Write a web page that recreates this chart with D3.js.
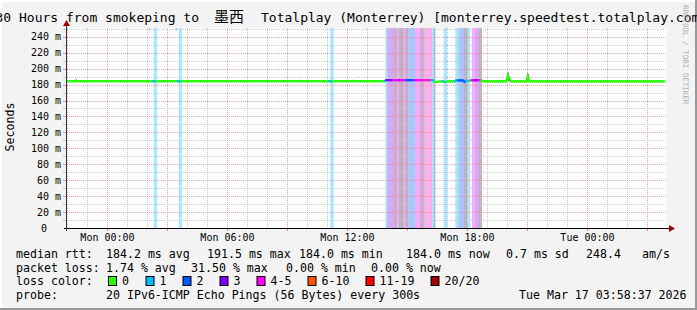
<!DOCTYPE html>
<html>
<head>
<meta charset="utf-8">
<script src="https://cdn.jsdelivr.net/npm/d3@7"></script>
<style>
  body { margin: 0; background: #f3f3f3; }
  svg { display: block; }
  text { font-family: "DejaVu Sans Mono", monospace; fill: #000; }
</style>
</head>
<body>
<svg width="697" height="310"></svg>
<script>
// ---- data ----
var titleHead = "30 Hours from smokeping to ";
var titleCjk = "墨西";
var titleTail = "Totalplay (Monterrey) [monterrey.speedtest.totalplay.com]";

var startTime = new Date(2026, 2, 15, 21, 58, 37);
var endTime = new Date(2026, 2, 17, 3, 58, 37);

var yTicks = [0, 0.02, 0.04, 0.06, 0.08, 0.10, 0.12, 0.14, 0.16, 0.18, 0.20, 0.22, 0.24];
var xTickTimes = [new Date(2026, 2, 16, 0), new Date(2026, 2, 16, 6), new Date(2026, 2, 16, 12),
                  new Date(2026, 2, 16, 18), new Date(2026, 2, 17, 0)];
var xTickLabels = ["Mon 00:00", "Mon 06:00", "Mon 12:00", "Mon 18:00", "Tue 00:00"];

// median rtt (ms), as runs of 5-minute steps
var medianFrom = [0,     191,   220,   223,   226,   228, 233,   238,   239,   242,   249, 264,   265, 266, 276,   277];
var medianTo   = [190,   219,   222,   225,   227,   232, 237,   238,   241,   248,   263, 264,   265, 275, 276,   358];
var medianMs   = [184.2, 185.5, 183.4, 184.0, 183.5, 184, 185.2, 183.4, 184.6, 185.4, 184, 191.5, 187, 184, 190.5, 184];

// lost pings (of 20) per 5-minute step
var lossStep  = [52, 53, 67, 68, 158, 159, 191, 192, 193, 194, 195, 196, 197, 198, 199, 200, 201, 202, 203,
                 204, 205, 206, 207, 208, 209, 210, 211, 212, 213, 214, 215, 216, 217, 218, 219, 220,
                 226, 227, 233, 234, 235, 236, 237, 238, 239, 240, 241, 243, 244, 245, 246, 247, 248];
var lossCount = [1, 1, 1, 1, 1, 1, 1, 3, 3, 3, 3, 4, 4, 5, 4, 3, 4, 5, 4,
                 2, 2, 2, 2, 2, 5, 4, 5, 4, 4, 5, 5, 7, 4, 5, 1, 1,
                 1, 1, 1, 1, 2, 2, 2, 2, 2, 1, 1, 4, 5, 3, 3, 4, 4];

// smoke (ping spread, ms) per step
var smokeStep = [5, 49, 65, 120, 132, 139, 171, 196, 197, 199, 200, 201, 203, 212, 213, 220, 238, 239, 247, 248, 264, 265, 276];
var smokeLo   = [184, 248, 248, 184, 184, 184, 184, 0, 0, 0, 0, 0, 0, 0, 0, 0, 0, 0, 0, 0, 184, 184, 184];
var smokeHi   = [187, 251, 251, 186, 186, 186, 186, 251, 251, 251, 251, 251, 251, 251, 251, 251, 251, 251, 251, 251, 196, 190, 194];

var lossKeys   = ["0", "1", "2", "3", "4-5", "6-10", "11-19", "20/20"];
var lossColors = ["#26ff00", "#00b8ff", "#0059ff", "#7e00ff", "#ff00ff", "#ff5500", "#ff0000", "#a10000"];

var statRtt  = ["median rtt:", "184.2 ms avg", "191.5 ms max", "184.0 ms min", "184.0 ms now", "0.7 ms sd", "248.4", "am/s"];
var statLoss = ["packet loss:", "1.74 % avg", "31.50 % max", "0.00 % min", "0.00 % now"];
var probeText = ["probe:", "20 IPv6-ICMP Echo Pings (56 Bytes) every 300s", "Tue Mar 17 03:58:37 2026"];

// ---- layout ----
var svg = d3.select("svg"),
    width = +svg.attr("width"),
    height = +svg.attr("height");
var pLeft = 67, pRight = 667, pTop = 28, pBottom = 228;

var x = d3.scaleTime().domain([startTime, endTime]).range([pLeft, pRight]);
var y = d3.scaleLinear().domain([0, 0.251]).range([pBottom, pTop]);
var stepMs = 300000;
function stepTime(i) { return new Date(startTime.getTime() + i * stepMs); }
function lossColor(n) {
  var k = n == 0 ? 0 : n == 1 ? 1 : n == 2 ? 2 : n == 3 ? 3 : n <= 5 ? 4 : n <= 10 ? 5 : n < 20 ? 6 : 7;
  return lossColors[k];
}

// background + frame
svg.append("rect").attr("width", width).attr("height", height).attr("fill", "#f3f3f3");
svg.append("path").attr("d", "M1,310V1H697").attr("fill", "none").attr("stroke", "#ffffff").attr("stroke-width", 2);
svg.append("path").attr("d", "M0,309H696V0").attr("fill", "none").attr("stroke", "#9a9a9a").attr("stroke-width", 2);
svg.append("rect").attr("x", pLeft).attr("y", pTop).attr("width", pRight - pLeft).attr("height", pBottom - pTop)
    .attr("fill", "#ffffff");

// loss bands
var plot = svg.append("g");
plot.selectAll("rect.loss")
    .data(lossStep)
    .enter().append("rect")
      .attr("class", "loss")
      .attr("x", function(d) { return x(stepTime(d)); })
      .attr("width", function(d) { return x(stepTime(d + 1)) - x(stepTime(d)); })
      .attr("y", pTop)
      .attr("height", pBottom - pTop)
      .attr("fill", function(d, i) { return lossColor(lossCount[i]); })
      .attr("fill-opacity", 0.35);

// smoke
plot.selectAll("rect.smoke")
    .data(smokeStep)
    .enter().append("rect")
      .attr("class", "smoke")
      .attr("x", function(d) { return x(stepTime(d)); })
      .attr("width", function(d) { return x(stepTime(d + 1)) - x(stepTime(d)); })
      .attr("y", function(d, i) { return y(Math.min(smokeHi[i], 251) / 1000); })
      .attr("height", function(d, i) { return y(smokeLo[i] / 1000) - y(Math.min(smokeHi[i], 251) / 1000); })
      .attr("fill", function(d, i) { return smokeLo[i] == 0 ? "#b4b4b4" : smokeHi[i] > 188 && smokeHi[i] < 240 ? "#404040" : "#9a9a9a"; })
      .attr("fill-opacity", function(d, i) { return smokeLo[i] == 0 ? 0.85 : 0.7; });

// grid
var grid = svg.append("g").attr("fill", "none").attr("stroke-dasharray", "1,1").attr("shape-rendering", "crispEdges");
var hours = d3.timeHour.range(d3.timeHour.ceil(startTime), endTime);
grid.selectAll("line.v")
    .data(hours)
    .enter().append("line")
      .attr("x1", function(d) { return Math.round(x(d)) + 0.5; })
      .attr("x2", function(d) { return Math.round(x(d)) + 0.5; })
      .attr("y1", pTop).attr("y2", pBottom)
      .attr("stroke", function(d) { return d.getHours() % 3 == 0 ? "#ff8080" : "#c8c8c8"; })
      .attr("stroke-opacity", function(d) { return d.getHours() % 3 == 0 ? 0.75 : 1; });
var ysub = d3.range(0.01, 0.2505, 0.01);
grid.selectAll("line.h")
    .data(ysub)
    .enter().append("line")
      .attr("x1", pLeft).attr("x2", pRight)
      .attr("y1", function(d) { return Math.round(y(d)) + 0.5; })
      .attr("y2", function(d) { return Math.round(y(d)) + 0.5; })
      .attr("stroke", function(d) { return Math.round(d * 1000) % 20 == 0 ? "#ff8080" : "#c8c8c8"; })
      .attr("stroke-opacity", function(d) { return Math.round(d * 1000) % 20 == 0 ? 0.75 : 1; });

// median line, coloured by loss of each step
var lossByStep = {};
lossStep.forEach(function(s, i) { lossByStep[s] = lossCount[i]; });
var pts = [];
medianFrom.forEach(function(f, i) {
  for (var s = f; s <= medianTo[i]; s++) pts.push({ step: s, v: medianMs[i] / 1000 });
});
var line = d3.line()
    .x(function(d) { return x(stepTime(d.step + 0.5)); })
    .y(function(d) { return y(d.v); });
svg.append("g").selectAll("path")
    .data(d3.pairs(pts))
    .enter().append("path")
      .attr("d", function(d) { return line(d); })
      .attr("fill", "none")
      .attr("stroke-width", 2)
      .attr("stroke-linecap", "square")
      .attr("stroke", function(d) { return lossColor(lossByStep[d[1].step] || 0); });

// axes
var axes = svg.append("g").attr("shape-rendering", "crispEdges");
axes.append("line").attr("x1", pLeft - 3).attr("x2", pRight + 3).attr("y1", pBottom + 0.5).attr("y2", pBottom + 0.5)
    .attr("stroke", "#000");
axes.append("line").attr("x1", pLeft - 0.5).attr("x2", pLeft - 0.5).attr("y1", pBottom + 3).attr("y2", pTop - 4)
    .attr("stroke", "#333");
svg.append("path").attr("d", "M" + (pRight + 2) + "," + (pBottom - 3) + "l6,3.5l-6,3.5z").attr("fill", "#a00000");
svg.append("path").attr("d", "M" + (pLeft - 4) + "," + (pTop - 2) + "l3.5,-6l3.5,6z").attr("fill", "#a00000");

// x ticks marks + labels
axes.selectAll("line.xt")
    .data(hours.filter(function(d) { return d.getHours() % 3 == 0; }))
    .enter().append("line")
      .attr("x1", function(d) { return Math.round(x(d)) + 0.5; })
      .attr("x2", function(d) { return Math.round(x(d)) + 0.5; })
      .attr("y1", pBottom + 1).attr("y2", pBottom + 3)
      .attr("stroke", "#ff8080");
svg.selectAll("text.xl")
    .data(xTickLabels)
    .enter().append("text")
      .attr("x", function(d, i) { return x(xTickTimes[i]); })
      .attr("y", 241)
      .attr("text-anchor", "middle")
      .style("font-size", "10px")
      .text(function(d) { return d; });

// y ticks + labels
axes.selectAll("line.yt")
    .data(ysub)
    .enter().append("line")
      .attr("x1", pLeft - 4).attr("x2", pLeft - 1)
      .attr("y1", function(d) { return Math.round(y(d)) + 0.5; })
      .attr("y2", function(d) { return Math.round(y(d)) + 0.5; })
      .attr("stroke", function(d) { return Math.round(d * 1000) % 20 == 0 ? "#ff8080" : "#c8c8c8"; });
svg.selectAll("text.yl")
    .data(yTicks)
    .enter().append("text")
      .attr("x", function(d) { return d == 0 ? 47 : 61; })
      .attr("y", function(d) { return y(d) + 3.5; })
      .attr("text-anchor", "end")
      .style("font-size", "10px")
      .text(function(d) { return d == 0 ? "0" : d3.format(".0f")(d * 1000) + " m"; });

svg.append("text")
    .attr("transform", "translate(14,127) rotate(-90)")
    .attr("text-anchor", "middle")
    .style("font-size", "11.6px")
    .text("Seconds");

// title
var t = svg.append("text").attr("y", 22).style("font-size", "13px");
t.append("tspan").attr("x", -4.5).attr("xml:space", "preserve").text(titleHead);
t.append("tspan").attr("x", 214).style("font-family", "'Noto Sans CJK SC'").style("font-size", "15px").text(titleCjk);
t.append("tspan").attr("x", 261).text(titleTail);

// watermark
svg.append("text")
    .attr("transform", "translate(683,5) rotate(90)")
    .style("font-size", "7.5px")
    .style("fill", "#b0b0b0")
    .text("RRDTOOL / TOBI OETIKER");

// legend
var fs = "11.6px";
var rttX = [16, 106, 207, 299, 406, 506, 586, 642];
svg.selectAll("text.rtt").data(statRtt).enter().append("text")
    .attr("x", function(d, i) { return rttX[i]; }).attr("y", 258).style("font-size", fs)
    .text(function(d) { return d; });
var lossX = [16, 106, 191, 286, 371];
svg.selectAll("text.pl").data(statLoss).enter().append("text")
    .attr("x", function(d, i) { return lossX[i]; }).attr("y", 271.7).style("font-size", fs)
    .text(function(d) { return d; });
svg.append("text").attr("x", 16).attr("y", 285.4).style("font-size", fs).text("loss color:");
var boxX = [108, 145.5, 182.5, 219.5, 256.5, 307.5, 365.5, 430.5];
var lg = svg.selectAll("g.lc").data(lossKeys).enter().append("g")
    .attr("transform", function(d, i) { return "translate(" + boxX[i] + ",0)"; });
lg.append("rect").attr("x", 0.5).attr("y", 276.5).attr("width", 8).attr("height", 9)
    .attr("fill", function(d, i) { return lossColors[i]; }).attr("stroke", "#000");
lg.append("text").attr("x", 14).attr("y", 285.4).style("font-size", fs).text(function(d) { return d; });
var probeX = [16, 106, 519];
svg.selectAll("text.pr").data(probeText).enter().append("text")
    .attr("x", function(d, i) { return probeX[i]; }).attr("y", 299.1).style("font-size", fs)
    .text(function(d) { return d; });
</script>
</body>
</html>
